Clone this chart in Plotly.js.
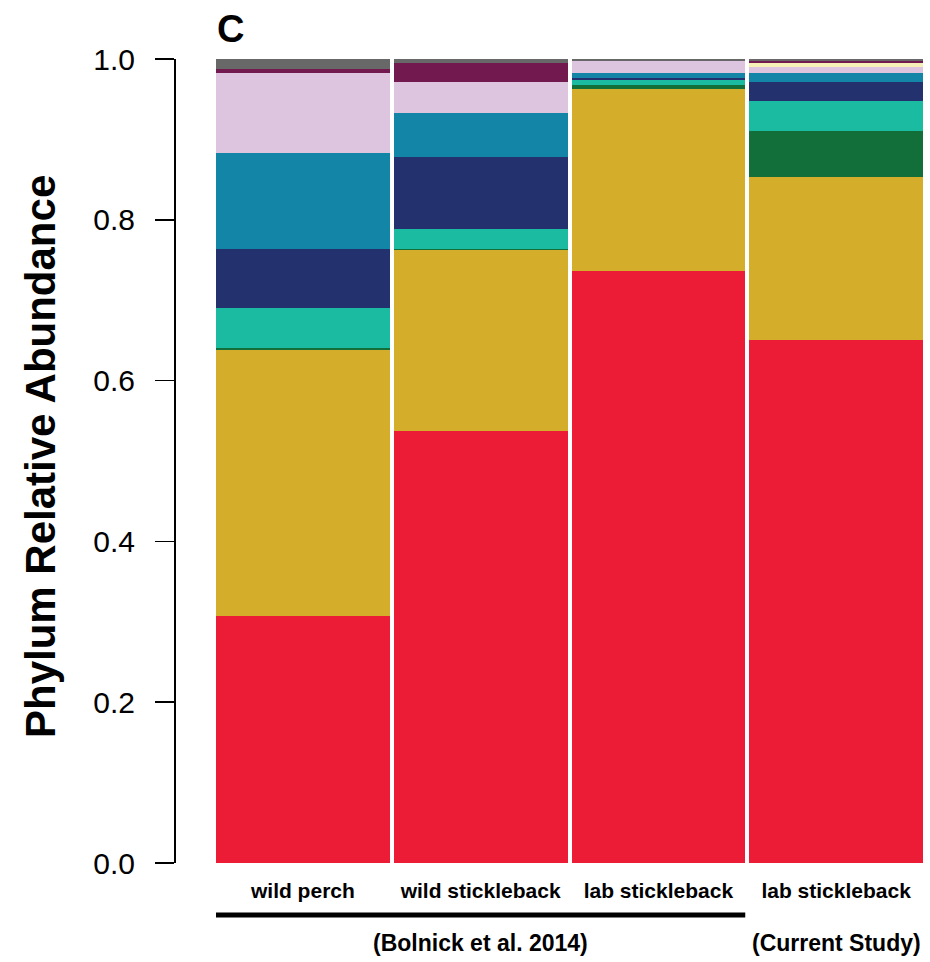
<!DOCTYPE html>
<html>
<head>
<meta charset="utf-8">
<script src="https://cdn.plot.ly/plotly-3.0.1.min.js"></script>
<style>
  html, body { margin: 0; padding: 0; background: #fff; }
  #chart { width: 930px; height: 962px; }
</style>
</head>
<body>
<div id="chart"></div>
<script>
// Sample groups (x positions 1..4) and their axis labels
const groupPos = [1, 2, 3, 4];
const groupLabels = ['wild perch', 'wild stickleback', 'lab stickleback', 'lab stickleback'];

// Phylum relative abundance per group, stacked bottom to top
const redPhylum      = [0.307, 0.537, 0.736, 0.650];
const goldPhylum     = [0.3315, 0.2255, 0.2267, 0.2032];
const greenPhylum    = [0.002, 0.0015, 0.005, 0.0572];
const turquoisePhylum= [0.0495, 0.0246, 0.0062, 0.0376];
const navyPhylum     = [0.0737, 0.0891, 0.0025, 0.0234];
const bluePhylum     = [0.1193, 0.0551, 0.0062, 0.0112];
const lavenderPhylum = [0.0996, 0.0382, 0.0149, 0.0074];
const creamPhylum    = [0, 0, 0, 0.005];
const maroonPhylum   = [0.005, 0.0236, 0, 0.0025];
const grayPhylum     = [0.0124, 0.0054, 0.0025, 0.0025];

// Y axis ticks
const yTicks = [0, 0.2, 0.4, 0.6, 0.8, 1.0];

const series = [
  {v: redPhylum,       c: '#ED1C36'},
  {v: goldPhylum,      c: '#D4AD2A'},
  {v: greenPhylum,     c: '#136F3A'},
  {v: turquoisePhylum, c: '#1ABBA0'},
  {v: navyPhylum,      c: '#23316E'},
  {v: bluePhylum,      c: '#1386A7'},
  {v: lavenderPhylum,  c: '#DDC5DF'},
  {v: creamPhylum,     c: '#F5F0B8'},
  {v: maroonPhylum,    c: '#721950'},
  {v: grayPhylum,      c: '#686868'}
];

const traces = series.map(s => ({
  type: 'bar',
  x: groupPos,
  y: s.v,
  marker: {color: s.c, line: {width: 0}},
  hoverinfo: 'skip',
  showlegend: false
}));

const W = 930, H = 962;
const mL = 174, mR = 5, mT = 59, mB = 99;
const plotW = W - mL - mR, plotH = H - mT - mB;
const px = x => (x - mL) / plotW;          // pixel -> paper x
const py = y => (H - mB - y) / plotH;      // pixel -> paper y

const font = 'Liberation Sans, Arial, Helvetica, sans-serif';
const halfBar = 0.5 * (1 - 4 / 177.75);

const layout = {
  width: W, height: H,
  margin: {l: mL, r: mR, t: mT, b: mB, pad: 0},
  paper_bgcolor: '#fff', plot_bgcolor: '#fff',
  barmode: 'stack',
  bargap: 4 / 177.75,
  font: {family: font, color: '#000'},
  xaxis: {
    domain: [40 / plotW, 1],
    range: [0.5, 4.5],
    tickvals: groupPos,
    ticktext: groupLabels,
    ticks: '',
    showline: false, showgrid: false, zeroline: false,
    tickfont: {family: font, size: 21, weight: 'bold', color: '#000'},
    ticklabelstandoff: 13,
    fixedrange: true
  },
  yaxis: {
    anchor: 'free', position: 0,
    range: [0, 1],
    tickvals: yTicks,
    tickformat: '.1f',
    ticks: 'outside', ticklen: 19, tickwidth: 1.5, tickcolor: '#000',
    showline: true, linewidth: 1.5, linecolor: '#000',
    showgrid: false, zeroline: false,
    tickfont: {family: font, size: 30, color: '#000'},
    ticklabelstandoff: 14,
    fixedrange: true
  },
  shapes: [{
    type: 'line', xref: 'x', yref: 'paper',
    x0: 1 - halfBar, x1: 3 + halfBar,
    y0: py(915), y1: py(915),
    line: {color: '#000', width: 5}
  }],
  annotations: [
    {text: 'C', xref: 'paper', yref: 'paper', x: px(215), y: py(29),
     xanchor: 'left', yanchor: 'middle', showarrow: false,
     font: {family: font, size: 38, weight: 'bold', color: '#000'}},
    {text: 'Phylum Relative Abundance', xref: 'paper', yref: 'paper',
     x: px(40), y: py(457), textangle: -90,
     xanchor: 'center', yanchor: 'middle', showarrow: false,
     font: {family: font, size: 42, weight: 'bold', color: '#000'}},
    {text: '(Bolnick et al. 2014)', xref: 'x', yref: 'paper',
     x: 2.0, y: py(943), xanchor: 'center', yanchor: 'middle', showarrow: false,
     font: {family: font, size: 23, weight: 'bold', color: '#000'}},
    {text: '(Current Study)', xref: 'x', yref: 'paper',
     x: 4.0, y: py(943), xanchor: 'center', yanchor: 'middle', showarrow: false,
     font: {family: font, size: 23, weight: 'bold', color: '#000'}}
  ]
};

Plotly.newPlot('chart', traces, layout, {displayModeBar: false, staticPlot: true});
</script>
</body>
</html>
